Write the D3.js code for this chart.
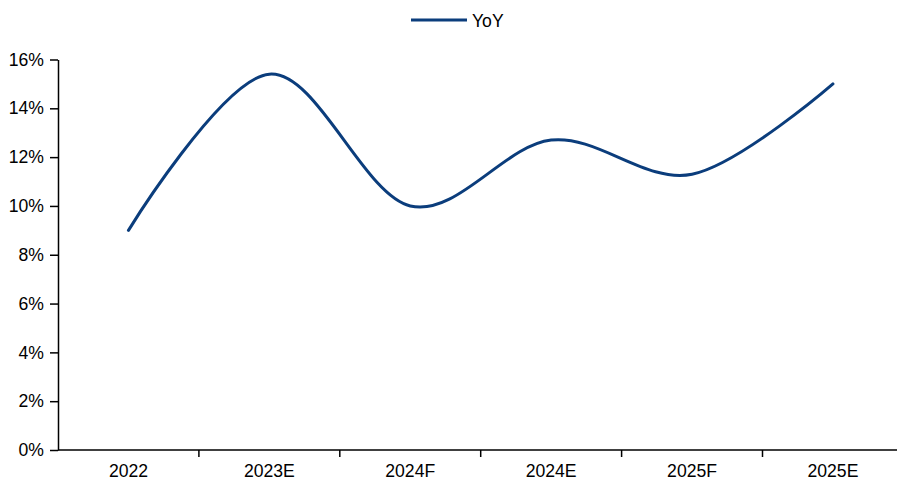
<!DOCTYPE html>
<html>
<head>
<meta charset="utf-8">
<script src="https://cdn.jsdelivr.net/npm/d3@7"></script>
<style>
  html, body { margin: 0; padding: 0; background: #fff; }
  svg { display: block; }
  text { font-family: "Liberation Sans", Arial, sans-serif; fill: #000; }
</style>
</head>
<body>
<svg id="chart" width="897" height="481"></svg>
<script>
// Yearly growth rate (YoY), in percent
const categories = ["2022", "2023E", "2024F", "2024E", "2025F", "2025E"];
const yoyValues = [9.0, 15.4, 10.0, 12.7, 11.3, 15.0];
const yTicks = [0, 2, 4, 6, 8, 10, 12, 14, 16];
const seriesName = "YoY";

const W = 897, H = 481;
const margin = { left: 58, top: 59.5, bottom: 31 };
const bandW = 140.9;
const lineColor = "#0b3d7c";
const fontSize = 17.6;

const svg = d3.select("#chart");

const x = d3.scaleBand()
  .domain(categories)
  .range([margin.left, margin.left + bandW * categories.length])
  .paddingInner(0).paddingOuter(0);

const y = d3.scaleLinear()
  .domain([0, 16])
  .range([H - margin.bottom, margin.top]);

// y axis
const yAxis = svg.append("g")
  .attr("transform", `translate(${margin.left},0)`)
  .call(d3.axisLeft(y).tickValues(yTicks).tickFormat(d => d + "%").tickSizeInner(8).tickSizeOuter(0).tickPadding(6));
yAxis.select(".domain").attr("stroke", "#000").attr("stroke-width", 1.5);
yAxis.selectAll(".tick line").attr("stroke", "#000").attr("stroke-width", 1.5);
yAxis.selectAll(".tick text").attr("font-size", fontSize).style("font-family", "'Liberation Sans', Arial, sans-serif");

// x axis with ticks on the band boundaries
const xAxisG = svg.append("g")
  .attr("transform", `translate(0,${y(0)})`);
xAxisG.append("line")
  .attr("x1", margin.left).attr("x2", x.range()[1])
  .attr("stroke", "#000").attr("stroke-width", 1.5);
xAxisG.selectAll("line.tick")
  .data(categories.slice(1))
  .join("line")
  .attr("class", "tick")
  .attr("x1", d => x(d)).attr("x2", d => x(d))
  .attr("y1", 0).attr("y2", 7)
  .attr("stroke", "#000").attr("stroke-width", 1.5);
xAxisG.selectAll("text")
  .data(categories)
  .join("text")
  .attr("x", d => x(d) + x.bandwidth() / 2)
  .attr("y", 27.3)
  .attr("text-anchor", "middle")
  .attr("font-size", fontSize)
  .text(d => d);

// smoothed series line
const line = d3.line()
  .x((d, i) => x(categories[i]) + x.bandwidth() / 2)
  .y(d => y(d))
  .curve(d3.curveCardinal.tension(0));

svg.append("path")
  .datum(yoyValues)
  .attr("fill", "none")
  .attr("stroke", lineColor)
  .attr("stroke-width", 3)
  .attr("stroke-linecap", "round")
  .attr("d", line);

// legend
const legend = svg.append("g").attr("transform", "translate(411,20)");
legend.append("line")
  .attr("x1", 0).attr("x2", 56).attr("y1", 0).attr("y2", 0)
  .attr("stroke", lineColor).attr("stroke-width", 3);
legend.append("text")
  .attr("x", 61).attr("y", 6.5)
  .attr("font-size", fontSize)
  .text(seriesName);
</script>
</body>
</html>
